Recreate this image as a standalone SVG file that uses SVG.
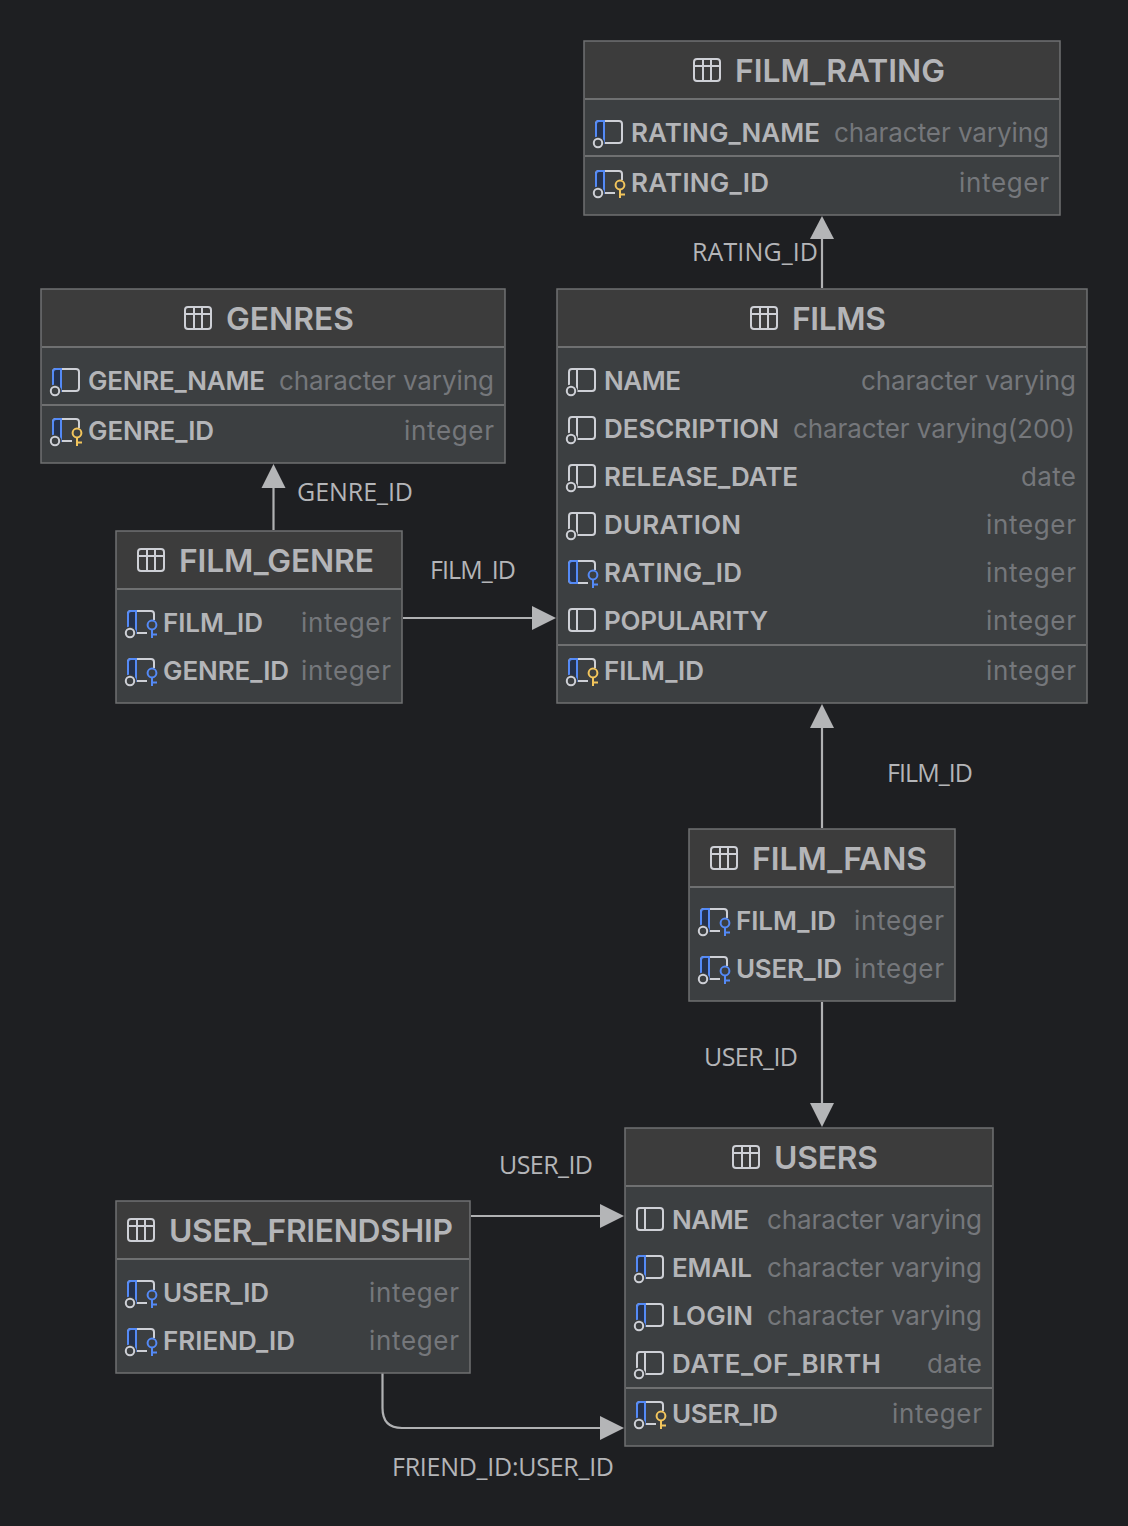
<svg xmlns="http://www.w3.org/2000/svg" width="1128" height="1526" viewBox="0 0 1128 1526">
<style>
.bg{fill:#1e1f22}
.box{fill:#3c3f41;stroke:#6f7071;stroke-width:1.5}
.head{fill:#3c3c3c}
.div{stroke:#6f7071;stroke-width:2;fill:none}
.title{font:600 31.8px Inter,"Liberation Sans",sans-serif;fill:#b4b5b8}
.f{font:600 26px Inter,"Liberation Sans",sans-serif;fill:#b4b5b8}
.t{font:400 26px Inter,"Liberation Sans",sans-serif;fill:#75777b;text-anchor:end}
.l{font:400 25px "Open Sans","Noto Sans",sans-serif;fill:#b4b5b8}
.c{stroke:#b0b1b3;stroke-width:2.2;fill:none}
.a{fill:#b4b5b7}
.ic{fill:none;stroke:#ced0d6;stroke-width:2}
</style>
<defs>
<g id="tbl"><rect x="1" y="1" width="26" height="22" rx="3" class="ic"/><path d="M1 8H27M10 1V23M18 1V23" class="ic"/></g>
<g id="plain"><rect x="1" y="1" width="26" height="22" rx="3" class="ic"/><path d="M9 1V23" class="ic"/></g>
<g id="gray"><use href="#plain"/><circle cx="3" cy="23" r="6.5" fill="#3c3f41"/><circle cx="3" cy="23" r="4.2" fill="#3c3f41" stroke="#ced0d6" stroke-width="2"/></g>
<g id="strip"><rect x="1" y="1" width="26" height="22" rx="3" class="ic"/><path d="M9 1H4Q1 1 1 4V20Q1 23 4 23H9Z" fill="#25324d" stroke="#548af7" stroke-width="2"/></g>
<g id="blue"><use href="#strip"/><circle cx="3" cy="23" r="6.5" fill="#3c3f41"/><circle cx="3" cy="23" r="4.2" fill="#3c3f41" stroke="#ced0d6" stroke-width="2"/></g>
<g id="k"><circle cx="25" cy="15" r="4.4" fill="#3c3f41" stroke="currentColor" stroke-width="2"/><path d="M25 19.500V28M25 24.500H30" stroke="currentColor" stroke-width="2" fill="none"/></g>
<g id="pkey"><use href="#blue"/><path d="M20 10H30V30H20Z" fill="#3c3f41"/><use href="#k" color="#f2c55c"/></g>
<g id="fkey"><use href="#blue"/><path d="M20 10H30V30H20Z" fill="#3c3f41"/><use href="#k" color="#548af7"/></g>
<g id="fkeynn"><use href="#strip"/><path d="M20 10H30V30H20Z" fill="#3c3f41"/><use href="#k" color="#548af7"/></g>
</defs>
<rect class="bg" width="1128" height="1526"/>
<g id="connectors">
<path class="c" d="M822 288V238"/><path class="a" d="M822 216L834 239H810Z"/>
<path class="c" d="M273.500 530V486"/><path class="a" d="M273.500 464L285.500 488H261.500Z"/>
<path class="c" d="M403 618H535"/><path class="a" d="M556 618L532 606V630Z"/>
<path class="c" d="M822 828V726"/><path class="a" d="M822 704L834 728H810Z"/>
<path class="c" d="M822 1002V1105"/><path class="a" d="M822 1127L810 1103H834Z"/>
<path class="c" d="M471 1216H602"/><path class="a" d="M624 1216L600 1204V1228Z"/>
<path class="c" d="M382.500 1373V1408Q382.500 1428 402 1428H602"/><path class="a" d="M624 1428L600 1416V1440Z"/>
<text class="l" x="692" y="261" textLength="126">RATING_ID</text>
<text class="l" x="297" y="501" textLength="116">GENRE_ID</text>
<text class="l" x="430" y="579" textLength="86">FILM_ID</text>
<text class="l" x="887" y="782" textLength="86">FILM_ID</text>
<text class="l" x="704" y="1066" textLength="94">USER_ID</text>
<text class="l" x="499" y="1174" textLength="94">USER_ID</text>
<text class="l" x="392" y="1476" textLength="222">FRIEND_ID:USER_ID</text>
</g>
<g id="FILM_RATING">
<rect class="box" x="584" y="41" width="476" height="174"/><rect class="head" x="585" y="42" width="474" height="56"/><path class="div" d="M585 99H1059M585 156H1059"/>
<use href="#tbl" x="693" y="58"/><text class="title" x="735" y="82" textLength="210">FILM_RATING</text>
<use href="#blue" x="595" y="120"/><text class="f" x="631" y="142" textLength="189">RATING_NAME</text><text class="t" x="1049" y="142" textLength="215">character varying</text>
<use href="#pkey" x="595" y="170"/><text class="f" x="631" y="192" textLength="138">RATING_ID</text><text class="t" x="1049" y="192" textLength="90">integer</text>
</g>
<g id="GENRES">
<rect class="box" x="41" y="289" width="464" height="174"/><rect class="head" x="42" y="290" width="462" height="56"/><path class="div" d="M42 347H504M42 405H504"/>
<use href="#tbl" x="184" y="306"/><text class="title" x="226" y="330" textLength="128">GENRES</text>
<use href="#blue" x="52" y="368"/><text class="f" x="88" y="390" textLength="177">GENRE_NAME</text><text class="t" x="494" y="390" textLength="215">character varying</text>
<use href="#pkey" x="52" y="418"/><text class="f" x="88" y="440" textLength="126">GENRE_ID</text><text class="t" x="494" y="440" textLength="90">integer</text>
</g>
<g id="FILMS">
<rect class="box" x="557" y="289" width="530" height="414"/><rect class="head" x="558" y="290" width="528" height="56"/><path class="div" d="M558 347H1086M558 645H1086"/>
<use href="#tbl" x="750" y="306"/><text class="title" x="792" y="330" textLength="94">FILMS</text>
<use href="#gray" x="568" y="368"/><text class="f" x="604" y="390" textLength="77">NAME</text><text class="t" x="1076" y="390" textLength="215">character varying</text>
<use href="#gray" x="568" y="416"/><text class="f" x="604" y="438" textLength="175">DESCRIPTION</text><text class="t" x="1075" y="438" textLength="282">character varying(200)</text>
<use href="#gray" x="568" y="464"/><text class="f" x="604" y="486" textLength="194">RELEASE_DATE</text><text class="t" x="1076" y="486" textLength="55">date</text>
<use href="#gray" x="568" y="512"/><text class="f" x="604" y="534" textLength="137">DURATION</text><text class="t" x="1076" y="534" textLength="90">integer</text>
<use href="#fkeynn" x="568" y="560"/><text class="f" x="604" y="582" textLength="138">RATING_ID</text><text class="t" x="1076" y="582" textLength="90">integer</text>
<use href="#plain" x="568" y="608"/><text class="f" x="604" y="630" textLength="164">POPULARITY</text><text class="t" x="1076" y="630" textLength="90">integer</text>
<use href="#pkey" x="568" y="658"/><text class="f" x="604" y="680" textLength="100">FILM_ID</text><text class="t" x="1076" y="680" textLength="90">integer</text>
</g>
<g id="FILM_GENRE">
<rect class="box" x="116" y="531" width="286" height="172"/><rect class="head" x="117" y="532" width="284" height="56"/><path class="div" d="M117 589H401"/>
<use href="#tbl" x="137" y="548"/><text class="title" x="179" y="572" textLength="195">FILM_GENRE</text>
<use href="#fkey" x="127" y="610"/><text class="f" x="163" y="632" textLength="100">FILM_ID</text><text class="t" x="391" y="632" textLength="90">integer</text>
<use href="#fkey" x="127" y="658"/><text class="f" x="163" y="680" textLength="126">GENRE_ID</text><text class="t" x="391" y="680" textLength="90">integer</text>
</g>
<g id="FILM_FANS">
<rect class="box" x="689" y="829" width="266" height="172"/><rect class="head" x="690" y="830" width="264" height="56"/><path class="div" d="M690 887H954"/>
<use href="#tbl" x="710" y="846"/><text class="title" x="752" y="870" textLength="175">FILM_FANS</text>
<use href="#fkey" x="700" y="908"/><text class="f" x="736" y="930" textLength="100">FILM_ID</text><text class="t" x="944" y="930" textLength="90">integer</text>
<use href="#fkey" x="700" y="956"/><text class="f" x="736" y="978" textLength="106">USER_ID</text><text class="t" x="944" y="978" textLength="90">integer</text>
</g>
<g id="USERS">
<rect class="box" x="625" y="1128" width="368" height="318"/><rect class="head" x="626" y="1129" width="366" height="56"/><path class="div" d="M626 1186H992M626 1388H992"/>
<use href="#tbl" x="732" y="1145"/><text class="title" x="774" y="1169" textLength="104">USERS</text>
<use href="#plain" x="636" y="1207"/><text class="f" x="672" y="1229" textLength="77">NAME</text><text class="t" x="982" y="1229" textLength="215">character varying</text>
<use href="#blue" x="636" y="1255"/><text class="f" x="672" y="1277" textLength="80">EMAIL</text><text class="t" x="982" y="1277" textLength="215">character varying</text>
<use href="#blue" x="636" y="1303"/><text class="f" x="672" y="1325" textLength="81">LOGIN</text><text class="t" x="982" y="1325" textLength="215">character varying</text>
<use href="#gray" x="636" y="1351"/><text class="f" x="672" y="1373" textLength="209">DATE_OF_BIRTH</text><text class="t" x="982" y="1373" textLength="55">date</text>
<use href="#pkey" x="636" y="1401"/><text class="f" x="672" y="1423" textLength="106">USER_ID</text><text class="t" x="982" y="1423" textLength="90">integer</text>
</g>
<g id="USER_FRIENDSHIP">
<rect class="box" x="116" y="1201" width="354" height="172"/><rect class="head" x="117" y="1202" width="352" height="56"/><path class="div" d="M117 1259H469"/>
<use href="#tbl" x="127" y="1218"/><text class="title" x="169" y="1242" textLength="284">USER_FRIENDSHIP</text>
<use href="#fkey" x="127" y="1280"/><text class="f" x="163" y="1302" textLength="106">USER_ID</text><text class="t" x="459" y="1302" textLength="90">integer</text>
<use href="#fkey" x="127" y="1328"/><text class="f" x="163" y="1350" textLength="132">FRIEND_ID</text><text class="t" x="459" y="1350" textLength="90">integer</text>
</g>
</svg>
